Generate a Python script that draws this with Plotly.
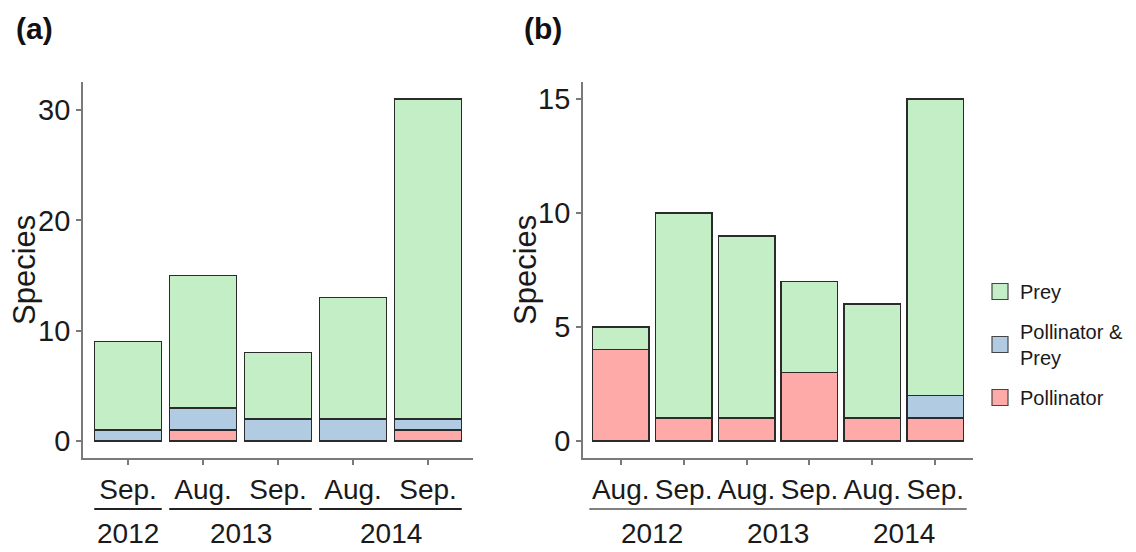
import plotly.graph_objects as go

# ---------------- data ----------------
cats_a = ["Sep. 2012", "Aug. 2013", "Sep. 2013", "Aug. 2014", "Sep. 2014"]
months_a = ["Sep.", "Aug.", "Sep.", "Aug.", "Sep."]
years_a = ["2012", "2013", "2013", "2014", "2014"]
pollinator_a = [0, 1, 0, 0, 1]
pollprey_a = [1, 2, 2, 2, 1]
prey_a = [8, 12, 6, 11, 29]

cats_b = ["Aug. 2012", "Sep. 2012", "Aug. 2013", "Sep. 2013", "Aug. 2014", "Sep. 2014"]
months_b = ["Aug.", "Sep.", "Aug.", "Sep.", "Aug.", "Sep."]
years_b = ["2012", "2012", "2013", "2013", "2014", "2014"]
pollinator_b = [4, 1, 1, 3, 1, 1]
pollprey_b = [0, 0, 0, 0, 0, 1]
prey_b = [1, 9, 8, 4, 5, 13]

series_names = ["Pollinator", "Pollinator &<br>Prey", "Prey"]
colors = ["#fdaaa8", "#b1cce2", "#c4efc6"]

FONT = "Liberation Sans, Arial, sans-serif"
W, H = 1136, 552
OFF = 8  # page body margin

fig = go.Figure()

def add_panel(cats, series, xa, ya):
    for name, vals, col in zip(series_names, series, colors):
        fig.add_trace(go.Bar(
            x=cats, y=vals, name=name,
            marker=dict(color=col, line=dict(color="#2b2b2b", width=1.4)),
            width=0.9, xaxis=xa, yaxis=ya, showlegend=False,
        ))

add_panel(cats_a, [pollinator_a, pollprey_a, prey_a], "x", "y")
add_panel(cats_b, [pollinator_b, pollprey_b, prey_b], "x2", "y2")

# legend keys (larger square swatches, as in the reference), top to bottom: Prey, P&P, Pollinator
for rank, (name, col) in enumerate(zip(series_names[::-1], colors[::-1]), start=1):
    fig.add_trace(go.Scatter(
        x=[None], y=[None], mode="markers", name=name, legendgroup="key%d" % rank,
        legendrank=rank, showlegend=True,
        marker=dict(symbol="square", size=16, color=col, line=dict(color="#444", width=1.2)),
        xaxis="x2", yaxis="y2",
    ))

def xpx(p):
    return (p - OFF) / W

def ypx(p):
    return 1 - (p - OFF) / H

axis_common = dict(showline=True, linecolor="#7a7a7a", linewidth=1.8, ticks="outside", ticklen=5,
                   tickcolor="#7a7a7a", tickwidth=1.5, showgrid=False, zeroline=False,
                   tickfont=dict(family=FONT, size=29, color="#1a1a1a"))
xtick = {**axis_common, "tickfont": dict(family=FONT, size=28, color="#1a1a1a")}

fig.update_layout(
    width=W, height=H, margin=dict(l=0, r=0, t=0, b=0),
    paper_bgcolor="white", plot_bgcolor="white", barmode="stack", bargap=0.1,
    xaxis=dict(domain=[xpx(83), xpx(473)], anchor="y", range=[-0.6, len(cats_a) - 0.4],
               tickmode="array", tickvals=cats_a, ticktext=months_a, categoryorder="array",
               categoryarray=cats_a, **xtick),
    yaxis=dict(domain=[ypx(458), ypx(82)], anchor="x", range=[-0.05 * 31, 31 * 1.05],
               tickvals=[0, 10, 20, 30], **axis_common),
    xaxis2=dict(domain=[xpx(583), xpx(973)], anchor="y2", range=[-0.6, len(cats_b) - 0.4],
                tickmode="array", tickvals=cats_b, ticktext=months_b, categoryorder="array",
                categoryarray=cats_b, **xtick),
    yaxis2=dict(domain=[ypx(458), ypx(82)], anchor="x2", range=[-0.05 * 15, 15 * 1.05],
                tickvals=[0, 5, 10, 15], **axis_common),
    legend=dict(x=xpx(980), y=ypx(272), xanchor="left", yanchor="top",
                traceorder="grouped",
                font=dict(family=FONT, size=20, color="#1a1a1a"), tracegroupgap=11,
                itemwidth=30, itemsizing="trace", bgcolor="rgba(0,0,0,0)"),
    showlegend=True,
)

annotations = []
shapes = []

def year_groups(years, xref, ext, line_color):
    groups = []
    for i, yr in enumerate(years):
        if groups and groups[-1][0] == yr:
            groups[-1][2] = i
        else:
            groups.append([yr, i, i])
    for yr, i0, i1 in groups:
        shapes.append(dict(type="line", xref=xref, yref="paper", x0=i0 - ext, x1=i1 + ext,
                           y0=ypx(509), y1=ypx(509), line=dict(color=line_color, width=1.8)))
        annotations.append(dict(xref=xref, yref="paper", x=(i0 + i1) / 2, y=ypx(533), text=yr,
                                showarrow=False, xanchor="center", yanchor="middle",
                                font=dict(family=FONT, size=28, color="#1a1a1a")))

year_groups(years_a, "x", 0.45, "#222")
year_groups(years_b, "x2", 0.5, "#808080")

for txt, px in [("(a)", 14), ("(b)", 522)]:
    annotations.append(dict(xref="paper", yref="paper", x=xpx(px), y=ypx(28), text="<b>" + txt + "</b>",
                            showarrow=False, xanchor="left", yanchor="middle",
                            font=dict(family=FONT, size=30, color="#111")))
for px in [24, 525]:
    annotations.append(dict(xref="paper", yref="paper", x=xpx(px), y=ypx(270), text="Species",
                            textangle=-90, showarrow=False, xanchor="center", yanchor="middle",
                            borderpad=0, font=dict(family=FONT, size=31, color="#1a1a1a")))

fig.update_layout(annotations=annotations, shapes=shapes)
fig.write_html("out.html")
